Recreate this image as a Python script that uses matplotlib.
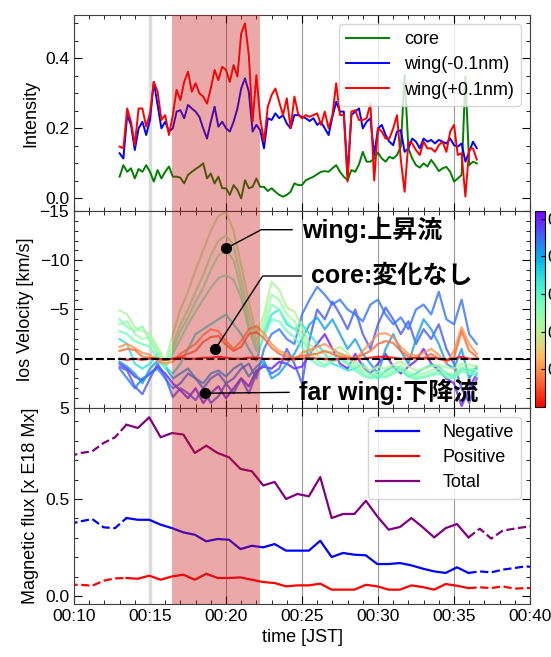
import numpy as np
import matplotlib
matplotlib.use("Agg")
import matplotlib.pyplot as plt
from matplotlib import colors, cm
from matplotlib.ticker import MultipleLocator

plt.rcParams['font.family'] = ['Liberation Sans', 'Noto Sans CJK JP']

# ---- time grids (minutes after 00:00 JST) ----
int_time = 13.0 + 0.25 * np.arange(95)
vel_time = 13.0 + 0.5 * np.arange(48)
flux_time = 9.7 + 0.75 * np.arange(42)

span_start, span_end = 16.45, 22.25

# ---- intensity ----
int_core = [0.061, 0.094, 0.075, 0.085, 0.056, 0.083, 0.075, 0.094, 0.075, 0.047,
            0.080, 0.056, 0.075, 0.090, 0.061, 0.061, 0.058, 0.042, 0.066, 0.075,
            0.083, 0.090, 0.099, 0.056, 0.070, 0.042, 0.061, 0.028, 0.028, 0.009,
            0.037, 0.023, -0.001, 0.051, 0.028, 0.032, 0.056, 0.032, 0.032, 0.020,
            0.028, 0.018, 0.009, 0.004, 0.009, 0.018, 0.042, 0.037, 0.037, 0.051,
            0.056, 0.061, 0.068, 0.075, 0.077, 0.075, 0.085, 0.094, 0.075, 0.061,
            0.051, 0.080, 0.075, 0.096, 0.132, 0.104, 0.104, 0.113, 0.130, 0.113,
            0.104, 0.118, 0.113, 0.123, 0.147, 0.351, 0.142, 0.113, 0.094, 0.087,
            0.099, 0.090, 0.109, 0.094, 0.077, 0.085, 0.089, 0.075, 0.047, 0.056,
            0.066, 0.347, 0.094, 0.104, 0.099]
int_wing_minus = [0.128, 0.113, 0.237, 0.209, 0.137, 0.199, 0.218, 0.180, 0.223, 0.332,
                  0.266, 0.199, 0.218, 0.190, 0.199, 0.247, 0.251, 0.228, 0.266, 0.256,
                  0.247, 0.232, 0.199, 0.170, 0.218, 0.261, 0.204, 0.218, 0.199, 0.190,
                  0.218, 0.256, 0.313, 0.342, 0.304, 0.190, 0.209, 0.194, 0.142, 0.228,
                  0.223, 0.242, 0.228, 0.237, 0.213, 0.199, 0.237, 0.237, 0.232, 0.228,
                  0.220, 0.228, 0.209, 0.218, 0.199, 0.180, 0.232, 0.275, 0.247, 0.247,
                  0.066, 0.237, 0.247, 0.256, 0.199, 0.218, 0.228, 0.123, 0.199, 0.209,
                  0.180, 0.161, 0.151, 0.190, 0.194, 0.132, 0.142, 0.170, 0.161, 0.142,
                  0.170, 0.161, 0.166, 0.156, 0.166, 0.161, 0.156, 0.170, 0.151, 0.147,
                  0.156, 0.104, 0.132, 0.161, 0.142]
int_wing_plus = [0.147, 0.142, 0.256, 0.218, 0.151, 0.256, 0.256, 0.204, 0.242, 0.332,
                 0.304, 0.223, 0.237, 0.180, 0.237, 0.309, 0.280, 0.332, 0.361, 0.304,
                 0.328, 0.299, 0.290, 0.270, 0.313, 0.366, 0.337, 0.375, 0.366, 0.332,
                 0.380, 0.347, 0.470, 0.499, 0.409, 0.218, 0.351, 0.228, 0.161, 0.261,
                 0.294, 0.313, 0.275, 0.237, 0.285, 0.200, 0.290, 0.240,
                 0.228, 0.237, 0.232, 0.237, 0.242, 0.209, 0.247, 0.199, 0.237, 0.328,
                 0.237, 0.237, 0.047, 0.247, 0.251, 0.223, 0.223, 0.228, 0.270, 0.050,
                 0.200, 0.190, 0.170, 0.170, 0.199, 0.237, 0.110, 0.018, 0.160, 0.156,
                 0.137, 0.123, 0.161, 0.142, 0.142, 0.132, 0.151, 0.161, 0.132, 0.190,
                 0.209, 0.123, 0.128, 0.004, 0.140, 0.142, 0.110]

# ---- line-of-sight velocity, one row per wavelength offset [nm] ----
v_red = [0.0, 0.1, 0.0, 0.1, 0.0, 0.0, 0.1, 0.0, -0.1, 0.0,
         0.0, -0.1, -0.1, -0.2, -0.1, 0.0, 0.0, -0.1, -0.1, 0.0,
         0.0, 0.0, 0.1, 0.0, 0.0, -0.1, 0.0, 0.0, 0.1, 0.0,
         0.0, 0.0, 0.0, -0.1, -0.2, -0.2, -0.1, 0.0, 0.0, -0.1,
         0.0, -0.1, 0.0, 0.1, 0.0, -0.2, 0.0, 0.0]
v_orange1 = [-0.8, -1.0, -0.9, -0.2, -0.1, 0.0, 0.1, 0.0, -0.2, -0.5,
             -0.8, -1.7, -2.2, -2.3, -1.4, -0.8, -1.2, -2.5, -2.7, -2.1,
             -1.1, -0.5, -0.2, -0.1, -0.3, -0.4, -0.5, -0.8, -0.5, -0.2,
             -0.1, -0.1, -0.4, -0.8, -1.5, -1.8, -1.6, -0.8, -0.2, 0.0,
             -0.1, -0.5, 0.0, 0.2, -0.1, -2.8, -0.8, -0.2]
v_orange2 = [-1.2, -1.5, -1.1, -0.6, -0.4, 0.2, 0.5, 0.3, -0.5, -1.0,
             -1.5, -2.4, -3.0, -2.8, -1.8, -1.0, -1.8, -3.0, -3.3, -2.6,
             -1.5, -0.8, -0.5, 0.2, -0.6, -0.9, -1.2, -1.5, -1.0, -0.5,
             -0.3, 0.2, -0.8, -1.6, -2.5, -2.6, -2.2, -1.2, -0.5, -0.3,
             -0.6, -1.0, -0.4, 0.4, -0.8, -3.2, -1.5, -0.5]
v_green1 = [-4.9, -4.5, -3.2, -2.8, -2.5, -1.2, 0.3, -2.5, -5.0, -6.8,
            -9.0, -11.0, -13.0, -14.5, -14.9, -13.0, -9.5, -5.8, -2.5, -4.5,
            -7.8, -7.0, -5.2, -4.8, -3.2, -1.5, -0.8, -0.5, -0.8, -1.2,
            -0.6, 0.3, 0.8, 1.2, 0.8, 1.0, 0.6, 0.3, 0.8, 1.2,
            1.0, 0.8, 0.6, 0.9, 1.0, 0.5, 0.6, 0.8]
v_green2 = [-3.5, -3.8, -2.5, -2.0, -2.2, -0.8, 0.5, -1.5, -3.5, -5.0,
            -6.8, -8.5, -10.5, -12.0, -12.5, -11.5, -8.0, -4.5, -1.8, -3.8,
            -6.5, -6.0, -4.5, -3.8, -2.5, -1.0, -0.3, 0.2, -0.4, -0.6,
            0.0, 0.6, 1.2, 1.6, 1.3, 1.5, 1.0, 0.7, 1.3, 1.7,
            1.5, 1.2, 1.0, 1.4, 1.6, 0.8, 1.0, 1.2]
v_green3 = [-4.0, -3.2, -2.8, -3.3, -1.8, -0.5, 0.8, -1.0, -2.8, -4.2,
            -5.8, -7.2, -9.0, -10.5, -11.0, -10.0, -7.0, -3.5, -1.2, -3.0,
            -5.5, -5.0, -3.8, -3.0, -2.0, -0.6, 0.2, 0.6, 0.0, -0.3,
            0.4, 0.9, 1.5, 1.9, 1.6, 1.8, 1.3, 1.0, 1.6, 1.9,
            1.8, 1.5, 1.3, 1.7, 1.9, 1.1, 1.3, 1.5]
v_green4 = [-2.8, -2.5, -1.8, -1.5, -1.2, 0.0, 1.0, -0.5, -2.0, -3.5,
            -4.8, -6.0, -7.2, -8.2, -8.5, -8.0, -6.2, -3.0, -0.8, -2.2,
            -4.0, -3.8, -2.8, -2.2, -1.2, 0.0, 0.6, 0.8, 0.3, 0.0,
            0.6, 1.2, 1.7, 2.0, 1.8, 1.9, 1.5, 1.2, 1.8, 2.1,
            1.9, 1.7, 1.5, 1.9, 2.0, 1.3, 1.5, 1.7]
v_cyan = [-2.0, -1.5, 0.5, 1.0, 0.5, -0.5, 0.8, 1.5, 0.5, -1.0,
          -2.5, -3.0, -3.5, -4.0, -4.5, -3.5, -2.5, -1.0, 0.2, -2.5,
          -4.5, -5.0, -3.5, -3.0, -3.5, -2.5, -1.5, -0.5, 0.5, 0.8,
          1.2, 1.0, 0.5, 1.5, 2.0, 1.2, 0.8, 1.0, 1.8, 1.5,
          1.0, 0.6, 0.8, 1.5, 1.8, 1.0, 1.2, 1.0]
v_blue1 = [0.3, 0.8, 1.5, 2.5, 1.0, 0.2, 0.8, 2.0, 1.5, 1.0,
           2.0, 2.5, 1.5, 1.2, 1.8, 1.0, 0.5, 1.8, 0.8, 0.2,
           2.0, 1.5, 0.5, -0.5, -2.0, -3.5, -4.2, -3.0, -4.0, -2.5,
           -1.0, -2.0, -0.5, 0.5, 1.5, -1.0, -2.5, -0.8, 0.5, -2.0,
           -4.0, -3.0, -1.5, 0.5, 1.0, -1.0, 2.0, 0.8]
v_blue2 = [1.0, 2.0, 3.0, 2.0, 1.5, 1.0, 2.0, 3.0, 2.5, 1.5,
           2.0, 3.0, 2.0, 1.5, 2.5, 2.0, 1.0, 0.5, 2.0, -1.0,
           -2.5, -3.0, -2.0, -1.5, -4.5, -6.0, -7.3, -6.5, -5.5, -6.0,
           -5.0, -4.5, -3.8, -5.5, -6.0, -4.5, -3.5, -4.2, -3.0, -5.0,
           -5.5, -4.5, -6.8, -4.0, -3.5, -6.0, -2.5, -1.5]
v_blue3 = [0.8, 1.2, 2.8, 3.6, 2.0, 0.5, 1.8, 3.9, 3.0, 3.5,
           4.2, 3.0, 4.5, 3.8, 2.5, 3.5, 2.0, 3.5, 1.5, 0.5,
           1.5, 1.0, -1.0, 0.5, 2.5, -2.0, -5.0, -4.0, -5.8, -4.5,
           -3.0, -5.0, -2.5, -1.0, -3.5, -5.2, -4.0, -2.5, -3.8, -1.5,
           -3.0, -2.0, -3.5, -1.0, 0.5, 3.0, 4.5, 2.0]
v_purple = [0.5, 1.0, 1.8, 2.2, 1.5, 0.8, 1.5, 2.5, 3.2, 4.0,
            3.0, 4.5, 3.5, 2.8, 4.0, 3.0, 2.0, 2.8, 1.2, 0.8,
            1.0, 0.3, 0.5, 1.0, 0.8, -0.5, -1.5, -2.5, -1.0, 0.5,
            1.0, -0.5, 0.8, 1.5, 0.5, -0.5, 0.8, 1.5, 0.8, 0.2,
            -1.0, 0.5, 1.2, 2.0, 2.5, 4.8, 3.0, 1.5]

# drawn from far wing to core so the core ends up on top
vel_lines = [v_purple, v_blue3, v_blue2, v_blue1, v_cyan,
             v_green4, v_green3, v_green2, v_green1, v_orange2, v_orange1, v_red]
vel_offsets = [0.100, 0.092, 0.088, 0.082, 0.068,
               0.056, 0.052, 0.047, 0.042, 0.020, 0.014, 0.0]

# annotated points and labels
annot_t = [20.0, 19.3, 18.6]
annot_v = [-11.2, -1.0, 3.5]
annot_text_t = [25.0, 25.6, 24.8]
annot_text_v = [-13.1, -8.4, 3.4]
annot_labels = ["wing:上昇流", "core:変化なし", "far wing:下降流"]
annot_angles = [28, 57, None]

# ---- magnetic flux ----
flux_neg = [0.371, 0.385, 0.397, 0.354, 0.350, 0.402, 0.393, 0.393, 0.368, 0.350,
            0.328, 0.316, 0.282, 0.294, 0.290, 0.242, 0.259, 0.251, 0.268, 0.234,
            0.234, 0.234, 0.285, 0.201, 0.222, 0.213, 0.210, 0.165, 0.165, 0.170,
            0.158, 0.141, 0.127, 0.119, 0.148, 0.119, 0.127, 0.122, 0.136, 0.144,
            0.153, 0.148]
flux_pos = [0.058, 0.058, 0.053, 0.079, 0.091, 0.093, 0.089, 0.105, 0.084, 0.101,
            0.110, 0.084, 0.115, 0.093, 0.093, 0.096, 0.084, 0.072, 0.067, 0.050,
            0.055, 0.055, 0.064, 0.033, 0.033, 0.033, 0.058, 0.050, 0.033, 0.033,
            0.055, 0.046, 0.033, 0.062, 0.053, 0.041, 0.045, 0.041, 0.050, 0.038,
            0.041, 0.041]
flux_total = [0.720, 0.737, 0.746, 0.789, 0.818, 0.883, 0.866, 0.921, 0.818, 0.840,
              0.832, 0.737, 0.775, 0.737, 0.715, 0.655, 0.643, 0.570, 0.588, 0.500,
              0.526, 0.514, 0.613, 0.402, 0.423, 0.423, 0.491, 0.411, 0.342, 0.356,
              0.402, 0.354, 0.302, 0.350, 0.371, 0.302, 0.347, 0.296, 0.337, 0.347,
              0.356, 0.364]
solid_first, solid_last = 5, 35

xticks = [10, 15, 20, 25, 30, 35, 40]
xtick_labels = ["00:10", "00:15", "00:20", "00:25", "00:30", "00:35", "00:40"]

W, H = 551, 657
fig = plt.figure(figsize=(W / 100, H / 100), dpi=100)
left, width = 74 / W, 456 / W
ax_int = fig.add_axes([left, 1 - 211 / H, width, 196 / H])
ax_vel = fig.add_axes([left, 1 - 408 / H, width, 197 / H], sharex=ax_int)
ax_flux = fig.add_axes([left, 1 - 604 / H, width, 196 / H], sharex=ax_int)


def style_axes(ax):
    ax.set_xlim(10, 40)
    ax.xaxis.set_major_locator(MultipleLocator(5))
    ax.xaxis.set_minor_locator(MultipleLocator(1))
    ax.tick_params(which='both', direction='in', top=True, right=True, labelsize=12.5)
    ax.tick_params(which='major', length=6)
    ax.tick_params(which='minor', length=3)
    ax.grid(axis='x', which='major', color='0.6', lw=0.8)
    ax.axvline(15, color='0.86', lw=2.5, zorder=1.6)
    ax.axvspan(span_start, span_end, color='#cc1a1a', alpha=0.38, lw=0, zorder=3)
    for s in ax.spines.values():
        s.set_color('0.25')


for ax in (ax_int, ax_vel, ax_flux):
    style_axes(ax)

# top: intensity
ax_int.plot(int_time, int_core, color='green', lw=1.4, label='core')
ax_int.plot(int_time, int_wing_minus, color='blue', lw=1.4, label='wing(-0.1nm)')
ax_int.plot(int_time, int_wing_plus, color='red', lw=1.4, label='wing(+0.1nm)')
ax_int.set_ylim(-0.037, 0.523)
ax_int.set_yticks([0.0, 0.2, 0.4])
ax_int.yaxis.set_minor_locator(MultipleLocator(0.05))
ax_int.set_ylabel('Intensity', fontsize=13)
ax_int.legend(loc='upper right', fontsize=13, handlelength=2.4, framealpha=0.8,
              labelspacing=0.45).set_zorder(6)
ax_int.tick_params(labelbottom=False)

# middle: velocity
cmap = plt.get_cmap('rainbow_r')
norm = colors.Normalize(vmin=0.0, vmax=0.104)
for vals, off in zip(vel_lines, vel_offsets):
    ax_vel.plot(vel_time, vals, color=cmap(norm(off)), lw=1.6, alpha=0.8)
ax_vel.axhline(0, color='k', ls='--', lw=1.5, zorder=2.5)
ax_vel.set_ylim(5, -15)
ax_vel.set_yticks([-15, -10, -5, 0, 5])
ax_vel.yaxis.set_minor_locator(MultipleLocator(1))
ax_vel.set_ylabel('los Velocity [km/s]', fontsize=13)
ax_vel.tick_params(labelbottom=False)

ax_vel.plot(annot_t, annot_v, 'o', color='k', ms=7, zorder=6)
for t, v, tt, tv, lab, ang in zip(annot_t, annot_v, annot_text_t, annot_text_v,
                                  annot_labels, annot_angles):
    style = 'arc3' if ang is None else f'angle,angleA=0,angleB={ang},rad=0'
    ax_vel.annotate(lab, xy=(t, v), xytext=(tt, tv), ha='left', va='center',
                    fontsize=18, fontweight='bold', zorder=7,
                    arrowprops=dict(arrowstyle='-', color='k', lw=1.0,
                                    connectionstyle=style, shrinkA=5, shrinkB=0,
                                    relpos=(0, 0.5)))

cax = fig.add_axes([535 / W, 1 - 407 / H, 10 / W, 196 / H])
cb = fig.colorbar(cm.ScalarMappable(norm=norm, cmap=cmap), cax=cax,
                  ticks=[0.02, 0.04, 0.06, 0.08, 0.10])
cb.ax.set_yticklabels(["0.02", "0.04", "0.06", "0.08", "0.10"])
cb.ax.tick_params(direction='in', length=3, pad=2, labelsize=12.5)

# bottom: magnetic flux
for vals, col, lab in [(flux_neg, 'blue', 'Negative'), (flux_pos, 'red', 'Positive'),
                       (flux_total, 'purple', 'Total')]:
    ax_flux.plot(flux_time[:solid_first + 1], vals[:solid_first + 1], '--', color=col, lw=1.6)
    ax_flux.plot(flux_time[solid_first:solid_last + 1], vals[solid_first:solid_last + 1],
                 '-', color=col, lw=1.6, label=lab)
    ax_flux.plot(flux_time[solid_last:], vals[solid_last:], '--', color=col, lw=1.6)
ax_flux.set_ylim(-0.041, 0.969)
ax_flux.set_yticks([0.0, 0.5])
ax_flux.yaxis.set_minor_locator(MultipleLocator(0.1))
ax_flux.set_ylabel('Magnetic flux [x E18 Mx]', fontsize=13)
ax_flux.set_xticks(xticks, xtick_labels)
ax_flux.set_xlabel('time [JST]', fontsize=13)
ax_flux.legend(loc='upper right', fontsize=13, handlelength=2.4, handletextpad=1.3,
               framealpha=0.8, labelspacing=0.45).set_zorder(6)

fig.savefig('out.png', dpi=100)
